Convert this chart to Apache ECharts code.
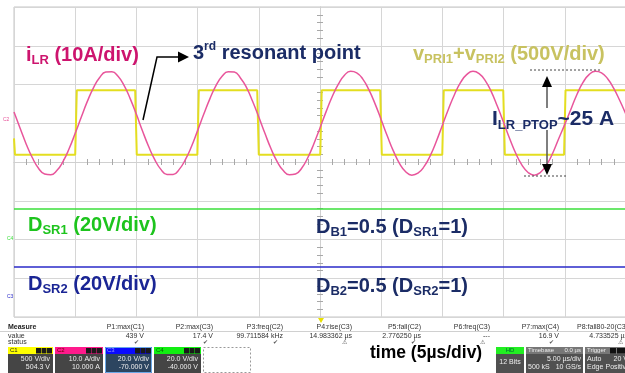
<!DOCTYPE html>
<html><head><meta charset="utf-8">
<script src="https://cdn.jsdelivr.net/npm/echarts@6/dist/echarts.min.js"></script>
<style>html,body{margin:0;padding:0;background:#fff}#c{width:625px;height:373px}</style>
</head><body><div id="c"></div>
<script>
// ---- data ----
const timeUs = [0,0.5,1,1.5,2,2.5,3,3.5,4,4.5,5,5.5,6,6.5,7,7.5,8,8.5,9,9.5,
  10,10.5,11,11.5,12,12.5,13,13.5,14,14.5,15,15.5,16,16.5,17,17.5,18,18.5,19,19.5,
  20,20.5,21,21.5,22,22.5,23,23.5,24,24.5,25,25.5,26,26.5,27,27.5,28,28.5,29,29.5,
  30,30.5,31,31.5,32,32.5,33,33.5,34,34.5,35,35.5,36,36.5,37,37.5,38,38.5,39,39.5,
  40,40.5,41,41.5,42,42.5,43,43.5,44,44.5,45,45.5,46,46.5,47,47.5,48,48.5,49,49.5,50];
const iLR = [2.9,-1.3,-5.4,-8.9,-11.6,-13.1,-13.3,-12.2,-9.9,-6.6,
  -2.6,1.6,5.7,9.2,11.8,13.2,13.3,12.1,9.7,6.3,
  2.3,-2.0,-6.0,-9.4,-11.9,-13.2,-13.2,-11.9,-9.4,-6.0,
  -1.9,2.3,6.3,9.7,12.1,13.3,13.2,11.7,9.2,5.6,
  1.6,-2.6,-6.6,-9.9,-12.2,-13.3,-13.1,-11.6,-8.9,-5.3,
  -1.2,3.0,6.9,10.1,12.4,13.4,13.0,11.4,8.6,5.0,
  0.9,-3.3,-7.2,-10.4,-12.5,-13.4,-12.9,-11.2,-8.4,-4.7,
  -0.5,3.7,7.5,10.6,12.6,13.4,12.8,11.0,8.1,4.3,
  0.2,-4.0,-7.8,-10.8,-12.7,-13.4,-12.7,-10.8,-7.8,-4.0,
  -0.3,3.6,7.5,10.6,12.6,13.4,13.0,11.5,9.0,5.8,2.3];
const vPriTime = [0,0.08,5.0,5.13,9.9,10.03,14.98,15.1,19.87,20.0,25.02,25.14,29.92,30.05,34.99,35.11,39.97,40.1,44.94,45.06,50];
const vPriVolt = [-195,-405,-405,425,425,-405,-405,425,425,-405,-405,425,425,-405,-405,425,425,-405,-405,425,425];
const dsrTime = [0, 50];
const dsr1 = [15.7, 15.7];
const dsr2 = [15.8, 15.8];
const measHeaders = ['P1:max(C1)','P2:max(C3)','P3:freq(C2)','P4:rise(C3)','P5:fall(C2)','P6:freq(C3)','P7:max(C4)','P8:fall80-20(C3)'];
const measValues = ['439 V','17.4 V','99.711584 kHz','14.983362 µs','2.776250 µs','---','16.9 V','4.733525 µs'];
const measStatus = ['✔','✔','✔','⚠','✔','⚠','✔','⚠'];

// ---- styling ----
const F = '"Liberation Sans", Arial, sans-serif';
const PINK_TXT = '#CD146E', PINK = '#E8559B', YEL = '#E4DE20', OLIVE = '#C8C260',
      NAVY = '#1B2C66', GREEN_TXT = '#1DC41D', GREEN = '#3ADF3A', BLUE_TXT = '#1A2595', BLUE = '#2A2AC8';

function tok(size, color, weight, lh, va) {
  const o = {font: (weight||'bold') + ' ' + size + 'px ' + F, fontSize: size, fontWeight: weight||'bold',
             fontFamily: F, fill: color, color: color};
  if (lh) o.lineHeight = lh;
  if (va) o.verticalAlign = va;
  return o;
}
function rt(x, y, text, rich) {
  return {type:'text', x:x, y:y, z:100, style:{text:text, rich:rich, verticalAlign:'top', textVerticalAlign:'top'}};
}
function st(x, y, text, size, color, align, weight) {
  return {type:'text', x:x, y:y, z:100, style:{text:text, font:(weight||'normal')+' '+size+'px '+F,
    fill:color, align:align||'left', textAlign:align||'left', verticalAlign:'top', textVerticalAlign:'top'}};
}
function rect(x, y, w, h, fill, stroke, dash) {
  const s = {fill:fill||'none'};
  if (stroke) { s.stroke = stroke; s.lineWidth = 1; }
  if (dash) s.lineDash = dash;
  return {type:'rect', z:90, shape:{x:x, y:y, width:w, height:h}, style:s};
}
function line(pts, color, w, dash) {
  const s = {stroke:color, lineWidth:w, fill:null};
  if (dash) s.lineDash = dash;
  return {type:'polyline', z:100, shape:{points:pts}, style:s};
}
function tri(pts, color) { return {type:'polygon', z:100, shape:{points:pts}, style:{fill:color}}; }

const g = [];
const m20 = c => tok(20, c, 'bold', 24), s13 = c => tok(13, c, 'bold', 12, 'bottom');
g.push(rt(26, 43, '{m|i}{s|LR}{m| (10A/div)}', {m:m20(PINK_TXT), s:s13(PINK_TXT)}));
g.push(rt(193, 41, '{m|3}{p|rd}{m| resonant point}', {m:m20(NAVY), p:tok(12, NAVY, 'bold', 12, 'top')}));
g.push(rt(413, 42, '{m|v}{s|PRI1}{m|+v}{s|PRI2}{m| (500V/div)}', {m:m20(OLIVE), s:s13(OLIVE)}));
g.push(rt(492, 107, '{m|I}{s|LR_PTOP}{m|~25 A}', {m:tok(21, NAVY, 'bold', 25), s:tok(13, NAVY, 'bold', 13, 'bottom')}));
g.push(rt(28, 213, '{m|D}{s|SR1}{m| (20V/div)}', {m:m20(GREEN_TXT), s:s13(GREEN_TXT)}));
g.push(rt(28, 272, '{m|D}{s|SR2}{m| (20V/div)}', {m:m20(BLUE_TXT), s:s13(BLUE_TXT)}));
g.push(rt(316, 215, '{m|D}{s|B1}{m|=0.5 (D}{s|SR1}{m|=1)}', {m:m20(NAVY), s:s13(NAVY)}));
g.push(rt(316, 274, '{m|D}{s|B2}{m|=0.5 (D}{s|SR2}{m|=1)}', {m:m20(NAVY), s:s13(NAVY)}));
g.push(rt(370, 343, '{m|time (5µs/div)}', {m:tok(17.5, '#000', 'bold', 21)}));
g.push(line([[143,120],[157,57],[179,57]], '#000', 1.5));
g.push(tri([[178,51.5],[189,57],[178,62.5]], '#000'));
g.push(line([[547,86],[547,108]], '#555', 1.5));
g.push(tri([[542,87],[547,76],[552,87]], '#000'));
g.push(line([[547,130],[547,165]], '#555', 1.5));
g.push(tri([[542,164],[547,175],[552,164]], '#000'));
g.push(line([[530,70],[602,70]], '#444', 1, [2,2]));
g.push(line([[524,176],[566,176]], '#444', 1, [2,2]));
g.push(st(3, 117, 'C2', 5, PINK));
g.push(st(7, 236, 'C4', 5, GREEN));
g.push(st(7, 294, 'C3', 5, BLUE));
g.push(tri([[318,318],[324,318],[321,323]], '#E8E000'));

g.push(st(8, 324, 'Measure', 7, '#222', 'left', 'bold'));
g.push(line([[0,331.5],[625,331.5]], '#d0d0d0', 1));
g.push(st(8, 333, 'value', 7, '#333'));
g.push(st(8, 339, 'status', 7, '#333'));
const colEnd = [144,213,283,352,421,490,559,628];
for (let i = 0; i < measHeaders.length; i++) {
  g.push(st(colEnd[i], 324, measHeaders[i], 7, '#333', 'right'));
  g.push(st(colEnd[i], 333, measValues[i], 7, '#333', 'right'));
  g.push(st(colEnd[i] - 8, 339, measStatus[i], 6, '#555', 'center'));
}
function chBox(x, w, hdr, label, labColor, l1, l2, body, border) {
  g.push(rect(x, 347, w, 7, hdr));
  g.push(st(x + 2, 347.5, label, 6, labColor));
  for (let k = 0; k < 3; k++) g.push(rect(x + w - 17 + k * 5.5, 348, 5, 5.5, '#1a1a1a'));
  g.push(rect(x, 354, w, 19, body));
  if (border) g.push(rect(x + 0.5, 347.5, w - 1, 25, null, border));
  g.push(st(x + w - 3, 356, l1, 7, '#eee', 'right'));
  g.push(st(x + w - 3, 364, l2, 7, '#eee', 'right'));
}
chBox(8, 45, '#FFFF00', 'C1', '#222', '500 V/div', '504.3 V', '#454545');
chBox(55, 48, '#FF1A8C', 'C2', '#600', '10.0 A/div', '10.000 A', '#454545');
chBox(105, 47, '#0A0AFF', 'C3', '#99f', '20.0 V/div', '-70.000 V', '#2C4560', '#6AA8E8');
chBox(154, 47, '#11EE11', 'C4', '#060', '20.0 V/div', '-40.000 V', '#454545');
g.push(rect(203.5, 347.5, 47, 25, null, '#999', [2,2]));
g.push(rect(496, 347, 28, 7, '#22EE22'));
g.push(st(510, 347.5, 'HD', 6, '#063', 'center'));
g.push(rect(496, 354, 28, 19, '#505050'));
g.push(st(510, 359, '12 Bits', 7, '#eee', 'center'));
g.push(rect(526, 347, 57, 7, '#777'));
g.push(st(528, 347.5, 'Timebase', 6, '#eee'));
g.push(st(581, 347.5, '0.0 µs', 6, '#eee', 'right'));
g.push(rect(526, 354, 57, 19, '#505050'));
g.push(st(581, 356, '5.00 µs/div', 7, '#eee', 'right'));
g.push(st(528, 364, '500 kS', 7, '#eee'));
g.push(st(581, 364, '10 GS/s', 7, '#eee', 'right'));
g.push(rect(585, 347, 40, 7, '#777'));
g.push(st(587, 347.5, 'Trigger', 6, '#eee'));
g.push(rect(610, 348, 6, 5.5, '#111'));
g.push(rect(617, 348, 8, 5.5, '#111'));
g.push(rect(585, 354, 40, 19, '#505050'));
g.push(st(587, 356, 'Auto', 7, '#eee'));
g.push(st(628, 356, '20 V', 7, '#eee', 'right'));
g.push(st(587, 364, 'Edge', 7, '#eee'));
g.push(st(630, 364, 'Positive', 7, '#eee', 'right'));

const gridLine = {color:'#d6d6d6', width:1};
const centerAxis = (pos, zeroIdx) => ({
  type:'value', position:pos, min:0, max:50, interval:5,
  axisLine:{show:true, onZero:true, onZeroAxisIndex:zeroIdx, lineStyle:{color:'#d0d0d0'}},
  axisTick:{show:false}, axisLabel:{show:false},
  minorTick:{show:true, splitNumber:5, length:3, lineStyle:{color:'#a8a8a8'}},
  minorSplitLine:{show:false}
});
const centerYAxis = (pos, zeroIdx) => ({
  type:'value', position:pos, min:-4, max:4, interval:1,
  axisLine:{show:true, onZero:true, onZeroAxisIndex:zeroIdx, lineStyle:{color:'#d0d0d0'}},
  axisTick:{show:false}, axisLabel:{show:false},
  minorTick:{show:true, splitNumber:5, length:3, lineStyle:{color:'#a8a8a8'}},
  minorSplitLine:{show:false}
});
const xa0 = centerAxis('bottom', 0); xa0.splitLine = {show:true, lineStyle:gridLine};
const xa1 = centerAxis('top', 1); xa1.splitLine = {show:false};
const ya0 = centerYAxis('left', 2); ya0.splitLine = {show:true, lineStyle:gridLine};
const ya1 = centerYAxis('right', 3); ya1.splitLine = {show:false};
const hiddenY = (mn, mx, iv) => ({type:'value', min:mn, max:mx, interval:iv, show:false, axisLine:{onZero:false}});

const pairs = (xs, ys) => xs.map((x, i) => [x, ys[i]]);
const chart = echarts.init(document.getElementById('c'), null, {renderer:'canvas'});
chart.setOption({
  animation:false,
  backgroundColor:'#fff',
  grid:{left:14, top:7, width:612, height:310, show:true, borderColor:'#c4c4c4', borderWidth:1,
        backgroundColor:'transparent', outerBoundsMode:'none', containLabel:false},
  xAxis:[xa0, xa1,
    {type:'value', min:-25, max:25, interval:5, show:false, axisLine:{onZero:false}},
    {type:'value', min:-25, max:25, interval:5, show:false, axisLine:{onZero:false}}],
  yAxis:[ya0, ya1,
    hiddenY(-50, 30, 10),      // C2 current, 10 A/div, offset 10 A
    hiddenY(-2500, 1500, 500), // C1 voltage, 500 V/div
    hiddenY(-40, 120, 20),     // C4, 20 V/div, offset -40 V
    hiddenY(-10, 150, 10)],    // C3, 20 V/div, offset -70 V
  series:[
    {name:'vPRI1+vPRI2', type:'line', xAxisIndex:0, yAxisIndex:3, data:pairs(vPriTime, vPriVolt),
     showSymbol:false, lineStyle:{color:YEL, width:2}, z:3},
    {name:'iLR', type:'line', xAxisIndex:0, yAxisIndex:2, data:pairs(timeUs, iLR), smooth:true,
     showSymbol:false, lineStyle:{color:PINK, width:1.5}, z:4},
    {name:'DSR1', type:'line', xAxisIndex:0, yAxisIndex:4, data:pairs(dsrTime, dsr1),
     showSymbol:false, lineStyle:{color:GREEN, width:1.5}, z:3},
    {name:'DSR2', type:'line', xAxisIndex:0, yAxisIndex:5, data:pairs(dsrTime, dsr2),
     showSymbol:false, lineStyle:{color:BLUE, width:1.5}, z:3}
  ],
  graphic:{elements:g}
});
</script></body></html>
